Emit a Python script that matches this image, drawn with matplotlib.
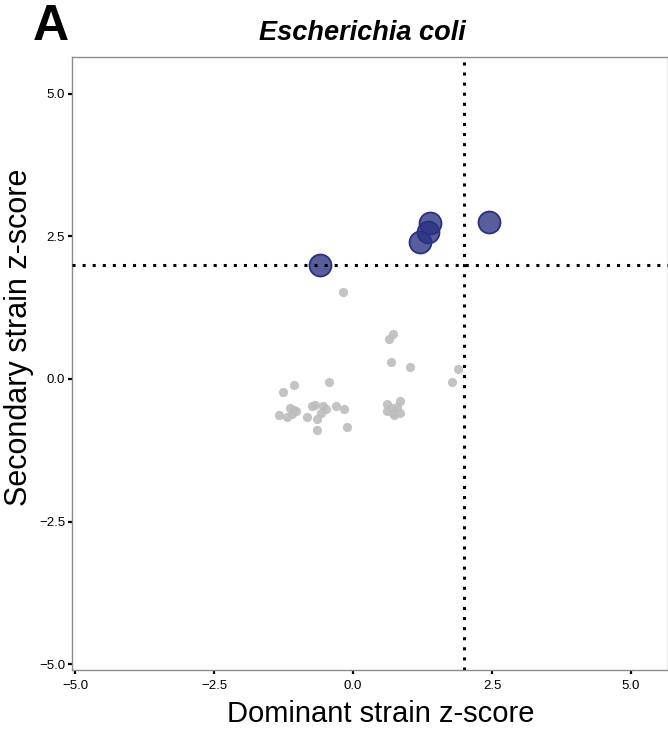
import matplotlib
matplotlib.use("Agg")
import matplotlib.pyplot as plt

plt.rcParams['font.family'] = ['Liberation Sans', 'DejaVu Sans']

# Non-significant (gray) strains
gray_x = [0.72, 0.65, 0.68, 1.03, 1.89, 1.78, -0.43, -1.07, -1.26, -1.13, -1.07, -1.03,
          -1.33, -1.18, -1.10, -0.83, -0.74, -0.68, -0.54, -0.49, -0.58, -0.64, -0.31,
          -0.17, -0.65, -0.10, 0.62, 0.85, 0.79, 0.61, 0.72, 0.85, 0.74, 0.70, -0.18]
gray_y = [0.79, 0.70, 0.29, 0.21, 0.17, -0.05, -0.06, -0.11, -0.23, -0.51, -0.54, -0.56,
          -0.64, -0.67, -0.62, -0.67, -0.47, -0.46, -0.47, -0.53, -0.59, -0.70, -0.47,
          -0.52, -0.89, -0.84, -0.44, -0.39, -0.49, -0.56, -0.60, -0.60, -0.64, -0.51, 1.52]

# Significant (blue) strains
sig_x = [-0.59, 1.20, 1.35, 1.38, 2.45]
sig_y = [2.00, 2.40, 2.57, 2.73, 2.75]

threshold_x = 2.0
threshold_y = 2.0

ticks = [-5.0, -2.5, 0.0, 2.5, 5.0]
tick_labels = ['\u22125.0', '\u22122.5', '0.0', '2.5', '5.0']

W, H = 668, 729
fig = plt.figure(figsize=(W / 100, H / 100), dpi=100)
ax = fig.add_axes([72 / W, 1 - 670 / H, 1 - 72 / W, (670 - 57) / H])

ax.scatter(gray_x, gray_y, s=44, color='#bdbdbd', alpha=0.9, linewidths=0, zorder=2)
ax.scatter(sig_x, sig_y, s=250, facecolor=(0.16, 0.19, 0.50, 0.78),
           edgecolor=(0.17, 0.19, 0.50, 1.0), linewidths=1.3, zorder=3)

ax.axvline(threshold_x, color='black', lw=2.2, linestyle=(0, (1, 2.3)),
           dash_capstyle='butt', zorder=4)
ax.axhline(threshold_y, color='black', lw=2.2, linestyle=(0, (1, 2.3)),
           dash_capstyle='butt', zorder=4)

ax.set_xlim(-5.054, 5.665)
ax.set_ylim(-5.10, 5.64)
ax.set_xticks(ticks)
ax.set_xticklabels(tick_labels)
ax.set_yticks(ticks)
ax.set_yticklabels(tick_labels)
ax.tick_params(axis='both', direction='out', length=3, width=1.6, color='black',
               labelsize=9.5, labelcolor='black')
ax.tick_params(axis='x', pad=4)
ax.tick_params(axis='y', pad=2)

for sp in ax.spines.values():
    sp.set_color('#8c8c8c')
    sp.set_linewidth(1.0)

fig.text(381 / W, 1 - 722 / H, 'Dominant strain z-score', fontsize=21,
         ha='center', va='baseline')
fig.text(19 / W, 1 - 337 / H, 'Secondary strain z-score', fontsize=22,
         rotation=90, ha='center', va='center')

fig.text(362 / W, 1 - 40 / H, 'Escherichia coli', fontsize=19.5, fontweight='bold',
         fontstyle='italic', ha='center', va='baseline')
fig.text(33 / W, 1 - 40 / H, 'A', fontsize=36, fontweight='bold', ha='left', va='baseline')

fig.savefig('out.png', dpi=100)
